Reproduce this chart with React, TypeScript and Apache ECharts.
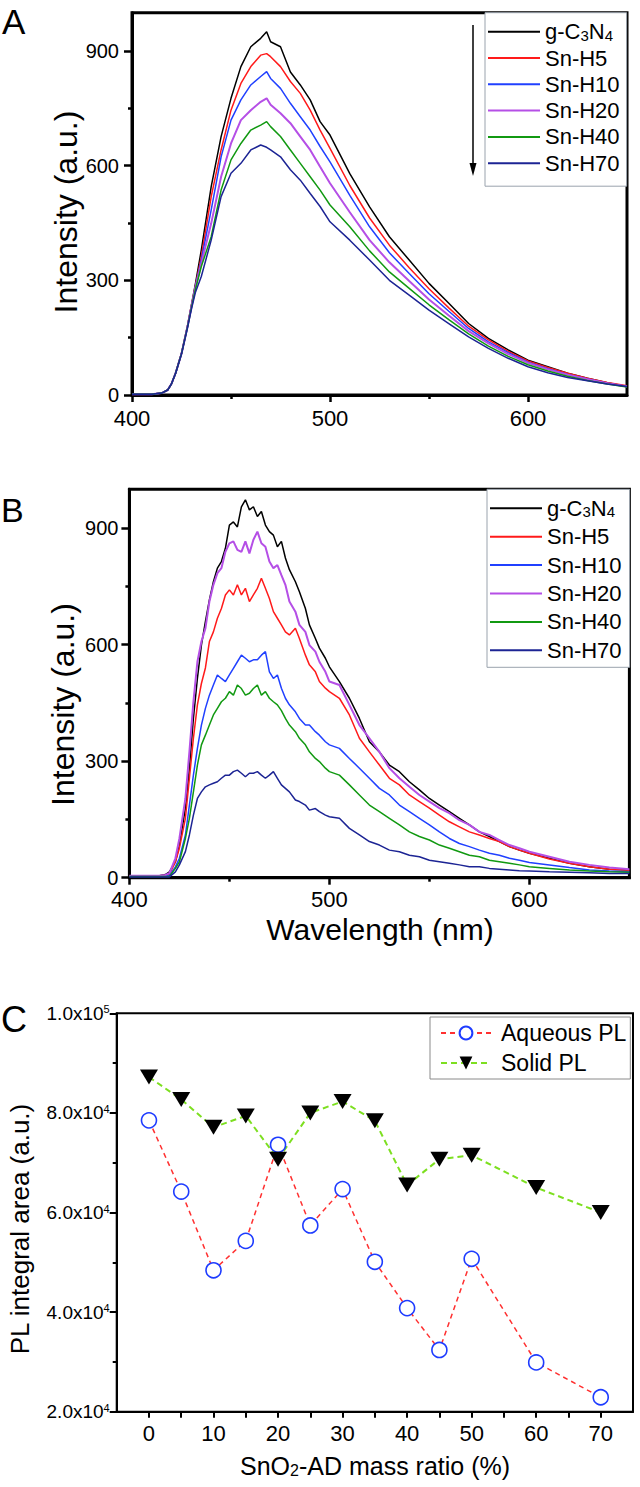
import React, { useEffect, useRef } from "react";
import * as echarts from "echarts";

const FONT = '"Liberation Sans", Arial, Helvetica, sans-serif';

// ---------- Series names & colours ----------
const SERIES_NAMES = ["g-C3N4", "Sn-H5", "Sn-H10", "Sn-H20", "Sn-H40", "Sn-H70"];
const SERIES_COLORS = ["#000000", "#ff1a1a", "#2040ff", "#b54fe6", "#119911", "#1c2494"];

// ---------- Panel A (wavelength, nm) ----------
const A_WL = [400, 405, 410, 415, 418, 420, 422, 425, 428, 430, 432, 435, 440, 445, 450, 455, 460, 465, 468, 470,
  475, 480, 485, 490, 495, 500, 510, 520, 530, 540, 550, 560, 570, 580, 590, 600, 610, 620, 630, 640, 650];
const A_G = [2, 2, 2, 5, 13, 30, 57, 109, 180, 235, 290, 379, 545, 676, 776, 859, 911, 933, 950, 924,
  911, 845, 811, 772, 715, 680, 579, 492, 414, 353, 292, 240, 187, 148, 118, 91, 74, 57, 44, 32, 22];
const A_H5 = [2, 2, 2, 5, 13, 30, 57, 109, 180, 234, 285, 362, 519, 641, 745, 815, 859, 889, 893, 885,
  859, 820, 789, 745, 693, 645, 548, 463, 392, 333, 278, 228, 180, 144, 114, 89, 72, 57, 44, 33, 24];
const A_H10 = [2, 2, 2, 5, 13, 30, 57, 109, 179, 232, 283, 353, 484, 623, 719, 772, 811, 833, 846, 828,
  802, 763, 728, 693, 650, 610, 522, 440, 372, 318, 265, 219, 174, 139, 111, 86, 69, 54, 42, 31, 22];
const A_H20 = [2, 2, 2, 5, 13, 30, 57, 108, 178, 230, 280, 344, 449, 571, 658, 719, 745, 767, 776, 759,
  737, 711, 676, 641, 597, 554, 478, 405, 347, 298, 250, 208, 167, 135, 107, 84, 67, 53, 41, 31, 22];
const A_H40 = [2, 2, 2, 5, 13, 30, 57, 108, 177, 228, 276, 336, 414, 536, 615, 658, 693, 706, 715, 702,
  676, 641, 606, 571, 536, 497, 440, 377, 322, 279, 236, 197, 160, 128, 101, 79, 63, 49, 38, 29, 21];
const A_H70 = [2, 2, 2, 5, 13, 30, 56, 107, 175, 224, 268, 310, 405, 519, 580, 606, 641, 654, 648, 641,
  623, 589, 562, 527, 493, 453, 405, 353, 300, 261, 222, 187, 152, 122, 96, 74, 58, 46, 37, 29, 22];

// ---------- Panel B (wavelength, nm) ----------
const B_WL = [400, 405, 410, 415, 418, 420, 423, 425, 428, 430, 432, 434, 436, 438, 440, 442, 444, 446, 448, 450,
  452, 454, 456, 458, 460, 462, 464, 466, 468, 470, 472, 474, 476, 478, 480, 483, 485, 488, 490, 493,
  495, 498, 500, 505, 510, 515, 520, 525, 530, 535, 540, 545, 550, 555, 560, 565, 570, 575, 580, 585,
  590, 595, 600, 610, 620, 630, 640, 650];
const B_G = [5, 5, 5, 5, 8, 15, 41, 84, 179, 282, 410, 513, 599, 659, 715, 762, 797, 814, 848, 908,
  916, 903, 955, 973, 947, 955, 930, 943, 908, 891, 882, 852, 866, 823, 793, 762, 736, 693, 651, 616,
  591, 565, 543, 505, 462, 410, 350, 324, 290, 273, 247, 226, 204, 187, 170, 153, 136, 118, 106, 93,
  80, 71, 63, 50, 37, 28, 22, 20];
const B_H5 = [5, 5, 5, 5, 6, 8, 41, 76, 153, 256, 359, 445, 500, 540, 608, 633, 668, 693, 728, 741,
  728, 754, 728, 745, 711, 728, 745, 771, 745, 719, 685, 668, 651, 633, 625, 642, 616, 573, 548, 530,
  505, 488, 479, 462, 419, 359, 324, 290, 256, 239, 213, 196, 179, 161, 144, 131, 118, 110, 101, 93,
  80, 71, 63, 48, 37, 28, 22, 19];
const B_H10 = [4, 4, 4, 4, 5, 5, 28, 50, 110, 187, 264, 333, 393, 436, 470, 496, 522, 513, 505, 522,
  539, 556, 573, 565, 556, 561, 561, 573, 582, 530, 513, 522, 488, 462, 445, 427, 410, 393, 393, 376,
  367, 350, 342, 333, 307, 282, 256, 230, 213, 187, 170, 153, 136, 118, 101, 88, 80, 71, 63, 58,
  50, 45, 39, 33, 26, 20, 17, 15];
const B_H20 = [5, 5, 5, 5, 7, 12, 50, 101, 204, 324, 453, 556, 608, 642, 711, 754, 784, 797, 839, 861,
  866, 844, 839, 866, 835, 870, 891, 861, 852, 814, 797, 805, 779, 754, 711, 685, 651, 633, 599, 582,
  556, 530, 505, 496, 445, 393, 359, 324, 282, 256, 234, 213, 196, 179, 166, 148, 136, 118, 110, 97,
  84, 76, 67, 54, 41, 33, 26, 22];
const B_H40 = [3, 3, 3, 3, 3, 3, 24, 41, 101, 153, 221, 290, 342, 367, 393, 419, 436, 453, 462, 479,
  470, 496, 487, 470, 475, 487, 496, 470, 479, 462, 453, 445, 430, 410, 393, 376, 359, 342, 324, 307,
  299, 282, 273, 264, 239, 213, 187, 170, 153, 136, 118, 106, 97, 84, 76, 67, 58, 54, 45, 41,
  37, 33, 28, 24, 20, 17, 15, 14];
const B_H70 = [2, 2, 2, 2, 2, 2, 15, 33, 67, 110, 161, 204, 221, 234, 239, 243, 247, 256, 264, 264,
  273, 277, 269, 260, 269, 269, 273, 264, 256, 264, 273, 256, 239, 230, 221, 200, 196, 187, 174, 178,
  170, 161, 157, 153, 127, 110, 93, 84, 71, 67, 58, 54, 45, 41, 37, 33, 28, 28, 24, 22,
  20, 18, 17, 15, 14, 13, 11, 11];

// ---------- Panel C ----------
const C_RATIO = [0, 5, 10, 15, 20, 25, 30, 35, 40, 45, 50, 60, 70];
const C_AQUEOUS = [78500, 64200, 48400, 54300, 73600, 57400, 64700, 50100, 40800, 32400, 50700, 29900, 22900];
const C_SOLID = [87200, 82700, 77100, 79400, 70700, 80000, 82300, 78400, 65500, 70700, 71500, 65000, 60000];

// ---------- Tick values ----------
const AB_X_TICKS = [400, 500, 600];
const AB_X_MINOR = [450, 550];
const AB_Y_TICKS = [0, 300, 600, 900];
const AB_Y_MINOR = [150, 450, 750];
const C_X_LABELS = [0, 10, 20, 30, 40, 50, 60, 70];
const C_X_TICKS = [0, 5, 10, 15, 20, 25, 30, 35, 40, 45, 50, 55, 60, 65, 70];

const A_VALUES = [A_G, A_H5, A_H10, A_H20, A_H40, A_H70];
const B_VALUES = [B_G, B_H5, B_H10, B_H20, B_H40, B_H70];

const legendFormatter = (name: string) =>
  name === "g-C3N4" ? "{n|g-C}{s|3}{n|N}{s|4}" : "{n|" + name + "}";

const legendText = {
  fontSize: 22,
  lineHeight: 22,
  fontFamily: FONT,
  color: "#000",
  rich: {
    n: { fontSize: 22, lineHeight: 22, fontFamily: FONT, color: "#000" },
    s: { fontSize: 15, lineHeight: 15, fontFamily: FONT, color: "#000", verticalAlign: "bottom" },
  },
};

function mainX(gridIndex: number, margin: number) {
  return {
    type: "value",
    gridIndex,
    position: "bottom",
    min: 400,
    max: 650,
    axisLine: { show: true, onZero: false, lineStyle: { color: "#000", width: 3 } },
    axisTick: { show: true, length: 7, customValues: AB_X_TICKS, lineStyle: { color: "#000", width: 2.5 } },
    axisLabel: { customValues: AB_X_TICKS, fontSize: 22, fontFamily: FONT, color: "#000", margin },
    splitLine: { show: false },
  };
}
function minorX(gridIndex: number) {
  return {
    type: "value",
    gridIndex,
    position: "bottom",
    min: 400,
    max: 650,
    axisLine: { show: false },
    axisTick: { show: true, length: 4, customValues: AB_X_MINOR, lineStyle: { color: "#000", width: 2.5 } },
    axisLabel: { show: false },
    splitLine: { show: false },
  };
}
function mainY(gridIndex: number, margin: number) {
  return {
    type: "value",
    gridIndex,
    position: "left",
    min: 0,
    max: 1000,
    axisLine: { show: true, onZero: false, lineStyle: { color: "#000", width: 3 } },
    axisTick: { show: true, length: 8, customValues: AB_Y_TICKS, lineStyle: { color: "#000", width: 2.5 } },
    axisLabel: { customValues: AB_Y_TICKS, fontSize: 20, fontFamily: FONT, color: "#000", margin },
    splitLine: { show: false },
  };
}
function minorY(gridIndex: number) {
  return {
    type: "value",
    gridIndex,
    position: "left",
    min: 0,
    max: 1000,
    axisLine: { show: false },
    axisTick: { show: true, length: 4, customValues: AB_Y_MINOR, lineStyle: { color: "#000", width: 2.5 } },
    axisLabel: { show: false },
    splitLine: { show: false },
  };
}

function spectra(wl: number[], values: number[][], xi: number, yi: number) {
  return values.map((vals, k) => ({
    name: SERIES_NAMES[k],
    type: "line",
    xAxisIndex: xi,
    yAxisIndex: yi,
    symbol: "none",
    showSymbol: false,
    color: SERIES_COLORS[k],
    itemStyle: { color: SERIES_COLORS[k] },
    lineStyle: { color: SERIES_COLORS[k], width: k === 3 ? 2 : 1.5 },
    data: wl.map((w, i) => [w, vals[i]]),
    z: 3,
  }));
}

function yTitle(text: string, x: number, y: number, size: number) {
  return {
    type: "text",
    x,
    y,
    rotation: Math.PI / 2,
    style: { text, fontSize: size, fontFamily: FONT, fill: "#000", align: "center", verticalAlign: "middle" },
  };
}
function letter(text: string, x: number, y: number, size: number) {
  return {
    type: "text",
    x,
    y,
    style: { text, fontSize: size, fontFamily: FONT, fill: "#000", align: "left", verticalAlign: "middle" },
  };
}

export default function App() {
  const ref = useRef<HTMLDivElement>(null);

  useEffect(() => {
    if (!ref.current) return;
    const chart = echarts.init(ref.current, undefined, { renderer: "svg" });

    const cYLabel = (v: number) => {
      const e = Math.floor(Math.log10(v) + 1e-9);
      const m = v / Math.pow(10, e);
      return "{m|" + m.toFixed(1) + "x10}{e|" + e + "}";
    };

    const option: any = {
      animation: false,
      backgroundColor: "#fff",
      textStyle: { fontFamily: FONT },
      grid: [
        { left: 132, top: 12.7, width: 495, height: 382.3, show: true, borderColor: "#000", borderWidth: 3 },
        { left: 129.4, top: 489.3, width: 500, height: 388.4, show: true, borderColor: "#000", borderWidth: 3 },
        { left: 116.7, top: 1013.3, width: 516.3, height: 398.4, show: true, borderColor: "#000", borderWidth: 2 },
      ],
      xAxis: [
        mainX(0, 12),
        minorX(0),
        mainX(1, 11),
        minorX(1),
        {
          type: "value",
          gridIndex: 2,
          position: "bottom",
          min: -5,
          max: 75,
          interval: 5,
          axisLine: { show: true, onZero: false, lineStyle: { color: "#000", width: 2 } },
          axisTick: { show: true, length: 6, customValues: C_X_TICKS, lineStyle: { color: "#000", width: 2 } },
          axisLabel: { customValues: C_X_LABELS, fontSize: 22, fontFamily: FONT, color: "#000", margin: 11 },
          splitLine: { show: false },
        },
      ],
      yAxis: [
        mainY(0, 13),
        minorY(0),
        mainY(1, 11),
        minorY(1),
        {
          type: "value",
          gridIndex: 2,
          position: "left",
          min: 20000,
          max: 100000,
          interval: 20000,
          axisLine: { show: true, onZero: false, lineStyle: { color: "#000", width: 2 } },
          axisTick: { show: true, length: 7, lineStyle: { color: "#000", width: 2 } },
          minorTick: { show: true, splitNumber: 2, length: 4, lineStyle: { color: "#000", width: 2 } },
          axisLabel: {
            formatter: cYLabel,
            margin: 7,
            color: "#000",
            rich: {
              m: { fontSize: 19, lineHeight: 19, fontFamily: FONT, color: "#000" },
              e: { fontSize: 11, lineHeight: 11, fontFamily: FONT, color: "#000", verticalAlign: "top" },
            },
          },
          splitLine: { show: false },
        },
      ],
      legend: [
        {
          data: SERIES_NAMES,
          orient: "vertical",
          left: 485,
          top: 12.7,
          padding: [8, 7, 12, 3],
          itemGap: 4.3,
          itemWidth: 52,
          itemHeight: 2,
          icon: "rect",
          borderColor: "#9aa3ad",
          borderWidth: 1,
          backgroundColor: "#fff",
          selectedMode: false,
          formatter: legendFormatter,
          textStyle: legendText,
        },
        {
          data: SERIES_NAMES,
          orient: "vertical",
          left: 487,
          top: 489.3,
          padding: [8, 8, 6, 3],
          itemGap: 6.4,
          itemWidth: 52,
          itemHeight: 2,
          icon: "rect",
          borderColor: "#9aa3ad",
          borderWidth: 1,
          backgroundColor: "#fff",
          selectedMode: false,
          formatter: legendFormatter,
          textStyle: legendText,
        },
        {
          data: ["Aqueous PL", "Solid PL"],
          orient: "vertical",
          left: 430,
          top: 1017,
          padding: [4, 4, 4, 10],
          itemGap: 6,
          itemWidth: 50,
          itemHeight: 16,
          borderColor: "#8a8a8a",
          borderWidth: 1,
          backgroundColor: "#fff",
          selectedMode: false,
          textStyle: { fontSize: 23, lineHeight: 24, fontFamily: FONT, color: "#000", padding: [0, 0, 0, 5] },
        },
      ],
      graphic: [
        letter("A", 2, 21, 35),
        letter("B", 1, 510, 34),
        letter("C", 1, 1019, 36),
        yTitle("Intensity (a.u.)", 66, 212, 32),
        yTitle("Intensity (a.u.)", 63, 704.5, 32),
        yTitle("PL integral area (a.u.)", 20, 1229, 26),
        {
          type: "text",
          x: 380,
          y: 929,
          style: { text: "Wavelength (nm)", fontSize: 30, fontFamily: FONT, fill: "#000", align: "center", verticalAlign: "middle" },
        },
        {
          type: "text",
          x: 375,
          y: 1466,
          style: {
            text: "{t|SnO}{s|2}{t|-AD mass ratio (%)}",
            fill: "#000",
            align: "center",
            verticalAlign: "middle",
            rich: {
              t: { fontSize: 25, lineHeight: 25, fontFamily: FONT, fill: "#000" },
              s: { fontSize: 16, lineHeight: 16, fontFamily: FONT, fill: "#000", verticalAlign: "bottom" },
            },
          },
        },
        {
          type: "line",
          shape: { x1: 473, y1: 25, x2: 473, y2: 166 },
          style: { stroke: "#000", lineWidth: 1.5 },
          z: 10,
        },
        {
          type: "polygon",
          shape: { points: [[469.5, 163], [476.5, 163], [473, 176]] },
          style: { fill: "#000" },
          z: 10,
        },
      ],
      series: [
        ...spectra(A_WL, A_VALUES, 0, 0),
        ...spectra(B_WL, B_VALUES, 2, 2),
        {
          name: "Aqueous PL",
          type: "line",
          xAxisIndex: 4,
          yAxisIndex: 4,
          data: C_RATIO.map((x, i) => [x, C_AQUEOUS[i]]),
          symbol: "circle",
          symbolSize: 15,
          itemStyle: { color: "#ffffff", borderColor: "#1e3cff", borderWidth: 1.6 },
          lineStyle: { color: "#ff3030", width: 1.5, type: [5, 4] },
          z: 4,
        },
        {
          name: "Solid PL",
          type: "line",
          xAxisIndex: 4,
          yAxisIndex: 4,
          data: C_RATIO.map((x, i) => [x, C_SOLID[i]]),
          symbol: "triangle",
          symbolRotate: 180,
          symbolSize: [18, 15],
          itemStyle: { color: "#000000" },
          lineStyle: { color: "#7ddf20", width: 2, type: [6, 4] },
          z: 4,
        },
      ],
    };

    chart.setOption(option);
    return () => chart.dispose();
  }, []);

  return (
    <div
      ref={ref}
      style={{ position: "absolute", left: 0, top: 0, width: 640, height: 1487, background: "#fff" }}
    />
  );
}
